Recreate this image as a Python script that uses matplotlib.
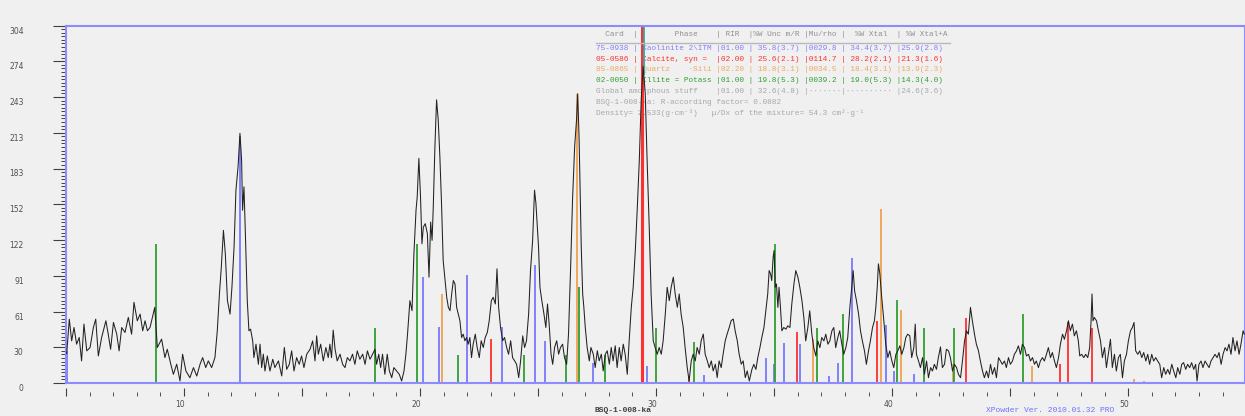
import matplotlib
matplotlib.use('Agg')
import matplotlib.pyplot as plt
from matplotlib.lines import Line2D
from matplotlib.ticker import FixedLocator, MultipleLocator
from matplotlib.transforms import ScaledTranslation

# measured pattern (2-theta, counts)
two_theta = [
    5.03, 5.14, 5.24, 5.34, 5.45, 5.56, 5.66, 5.76, 5.88, 6.02,
    6.16, 6.26, 6.37, 6.51, 6.69, 6.79, 6.89, 7.01, 7.15, 7.25,
    7.36, 7.50, 7.64, 7.78, 7.88, 8.02, 8.14, 8.25, 8.35, 8.45,
    8.56, 8.76, 8.87, 9.05, 9.19, 9.29, 9.44, 9.55, 9.69, 9.83,
    9.94, 10.08, 10.25, 10.40, 10.54, 10.68, 10.79, 10.92, 11.03, 11.17,
    11.31, 11.41, 11.50, 11.58, 11.67, 11.75, 11.84, 11.95, 12.03, 12.12,
    12.20, 12.29, 12.37, 12.44, 12.48, 12.54, 12.60, 12.68, 12.75, 12.82,
    12.91, 12.96, 13.05, 13.15, 13.22, 13.29, 13.36, 13.43, 13.53, 13.64,
    13.76, 13.85, 14.00, 14.14, 14.25, 14.35, 14.46, 14.56, 14.66, 14.77,
    14.88, 14.98, 15.08, 15.20, 15.34, 15.45, 15.55, 15.62, 15.69, 15.79,
    15.90, 16.01, 16.11, 16.18, 16.25, 16.32, 16.40, 16.49, 16.61, 16.72,
    16.82, 16.92, 17.03, 17.14, 17.24, 17.34, 17.45, 17.57, 17.67, 17.77,
    17.88, 17.99, 18.09, 18.16, 18.25, 18.33, 18.41, 18.51, 18.61, 18.70,
    18.80, 18.89, 19.01, 19.12, 19.22, 19.32, 19.40, 19.47, 19.57, 19.66,
    19.74, 19.83, 19.88, 19.95, 20.02, 20.08, 20.14, 20.22, 20.31, 20.38,
    20.45, 20.51, 20.56, 20.63, 20.70, 20.77, 20.84, 20.91, 20.98, 21.06,
    21.13, 21.20, 21.27, 21.34, 21.41, 21.48, 21.55, 21.62, 21.69, 21.76,
    21.83, 21.90, 21.97, 22.04, 22.11, 22.18, 22.25, 22.34, 22.42, 22.51,
    22.59, 22.68, 22.76, 22.85, 22.93, 23.02, 23.10, 23.19, 23.26, 23.33,
    23.41, 23.50, 23.58, 23.67, 23.75, 23.84, 23.92, 24.01, 24.09, 24.18,
    24.26, 24.35, 24.43, 24.51, 24.60, 24.68, 24.77, 24.85, 24.91, 24.97,
    25.02, 25.08, 25.16, 25.25, 25.33, 25.40, 25.47, 25.55, 25.62, 25.70,
    25.79, 25.87, 25.95, 26.04, 26.12, 26.21, 26.29, 26.38, 26.46, 26.55,
    26.63, 26.68, 26.74, 26.78, 26.83, 26.89, 26.94, 27.00, 27.08, 27.17,
    27.24, 27.34, 27.42, 27.51, 27.59, 27.68, 27.76, 27.85, 27.93, 28.02,
    28.10, 28.18, 28.27, 28.35, 28.44, 28.52, 28.61, 28.69, 28.78, 28.86,
    28.95, 29.03, 29.12, 29.20, 29.29, 29.37, 29.45, 29.54, 29.62, 29.71,
    29.79, 29.88, 29.96, 30.05, 30.13, 30.22, 30.30, 30.39, 30.47, 30.56,
    30.64, 30.73, 30.81, 30.90, 30.98, 31.06, 31.15, 31.23, 31.32, 31.40,
    31.49, 31.57, 31.66, 31.74, 31.83, 31.91, 32.00, 32.08, 32.17, 32.25,
    32.34, 32.42, 32.51, 32.59, 32.67, 32.76, 32.84, 32.93, 33.01, 33.10,
    33.18, 33.27, 33.35, 33.44, 33.52, 33.61, 33.69, 33.78, 33.86, 33.95,
    34.06, 34.14, 34.23, 34.31, 34.40, 34.48, 34.57, 34.65, 34.73, 34.79,
    34.85, 34.90, 34.96, 35.00, 35.05, 35.10, 35.16, 35.21, 35.27, 35.33,
    35.41, 35.50, 35.58, 35.67, 35.75, 35.84, 35.92, 36.01, 36.09, 36.18,
    36.26, 36.34, 36.43, 36.51, 36.60, 36.68, 36.77, 36.85, 36.94, 37.02,
    37.11, 37.19, 37.28, 37.36, 37.45, 37.53, 37.61, 37.70, 37.78, 37.87,
    37.95, 38.04, 38.12, 38.21, 38.29, 38.35, 38.41, 38.49, 38.58, 38.66,
    38.74, 38.83, 38.91, 39.00, 39.08, 39.17, 39.25, 39.31, 39.37, 39.42,
    39.48, 39.56, 39.65, 39.73, 39.82, 39.90, 39.99, 40.07, 40.16, 40.24,
    40.33, 40.41, 40.50, 40.58, 40.66, 40.75, 40.83, 40.92, 40.98, 41.03,
    41.12, 41.20, 41.29, 41.37, 41.46, 41.54, 41.63, 41.71, 41.79, 41.88,
    41.96, 42.05, 42.13, 42.22, 42.30, 42.39, 42.47, 42.56, 42.64, 42.73,
    42.81, 42.90, 42.98, 43.07, 43.15, 43.23, 43.32, 43.40, 43.49, 43.57,
    43.66, 43.74, 43.83, 43.91, 44.00, 44.08, 44.17, 44.25, 44.34, 44.42,
    44.51, 44.59, 44.67, 44.76, 44.84, 44.93, 45.01, 45.10, 45.18, 45.27,
    45.35, 45.44, 45.52, 45.61, 45.69, 45.78, 45.86, 45.95, 46.03, 46.11,
    46.20, 46.28, 46.37, 46.45, 46.54, 46.62, 46.71, 46.79, 46.88, 46.96,
    47.05, 47.13, 47.22, 47.30, 47.39, 47.47, 47.55, 47.64, 47.72, 47.81,
    47.89, 47.95, 48.03, 48.12, 48.20, 48.29, 48.37, 48.43, 48.47, 48.51,
    48.57, 48.66, 48.74, 48.83, 48.91, 49.00, 49.08, 49.16, 49.25, 49.33,
    49.42, 49.50, 49.59, 49.67, 49.76, 49.84, 49.93, 50.01, 50.10, 50.18,
    50.25, 50.32, 50.41, 50.49, 50.58, 50.66, 50.75, 50.83, 50.91, 51.00,
    51.08, 51.17, 51.25, 51.34, 51.42, 51.51, 51.59, 51.68, 51.76, 51.85,
    51.93, 52.02, 52.10, 52.19, 52.27, 52.35, 52.44, 52.52, 52.61, 52.69,
    52.78, 52.86, 52.92, 53.00, 53.09, 53.17, 53.26, 53.34, 53.43, 53.51,
    53.60, 53.68, 53.77, 53.85, 53.94, 54.02, 54.11, 54.19, 54.27, 54.36,
    54.44, 54.53, 54.61, 54.70, 54.78, 54.87, 54.92,
]
counts = [
    25.0, 54.3, 35.8, 47.2, 33.0, 38.7, 18.8, 50.1, 27.3, 30.2,
    47.2, 54.3, 23.0, 38.7, 52.9, 41.5, 28.7, 51.5, 41.5, 27.3,
    47.2, 43.0, 55.8, 41.5, 68.6, 52.9, 58.6, 44.4, 52.9, 44.4,
    47.2, 64.3, 30.2, 37.3, 21.6, 28.7, 16.0, 7.4, 16.0, 1.7,
    24.5, 10.2, 4.5, 13.1, 5.9, 16.0, 21.6, 13.1, 18.8, 13.1,
    21.6, 44.4, 75.7, 98.5, 129.8, 109.9, 70.0, 58.6, 81.4, 115.6,
    163.9, 183.9, 212.3, 189.6, 146.9, 166.8, 126.9, 70.0, 44.4, 45.8,
    35.8, 21.6, 33.0, 15.9, 33.0, 13.1, 24.5, 10.2, 23.0, 10.2,
    20.2, 13.1, 18.8, 6.0, 30.2, 11.6, 15.9, 27.3, 10.2, 21.6,
    15.9, 23.0, 13.1, 24.5, 28.7, 35.8, 18.8, 40.1, 24.5, 33.0,
    18.8, 30.2, 21.6, 33.0, 21.6, 45.0, 28.7, 18.8, 24.5, 15.9,
    13.1, 21.6, 18.8, 24.5, 15.9, 27.3, 20.2, 24.5, 15.9, 27.3,
    20.2, 24.5, 28.7, 15.9, 24.5, 13.1, 24.5, 7.4, 24.5, 10.2,
    4.5, 13.1, 10.2, 7.4, 1.7, 10.2, 24.5, 41.5, 70.0, 61.5,
    109.9, 146.9, 158.3, 191.0, 158.3, 118.4, 132.6, 135.5, 127.0, 90.0,
    136.9, 121.3, 149.7, 201.0, 240.8, 223.7, 192.4, 152.6, 104.2, 87.1,
    72.9, 64.3, 61.5, 75.7, 87.1, 84.3, 64.3, 58.6, 52.9, 38.7,
    41.5, 35.9, 38.7, 33.0, 38.7, 21.6, 33.0, 41.5, 30.2, 21.6,
    35.9, 30.2, 38.7, 43.0, 52.9, 70.0, 72.9, 67.2, 97.1, 64.3,
    47.2, 35.9, 38.7, 30.2, 24.5, 35.9, 21.6, 18.8, 15.9, 4.6,
    18.8, 40.1, 30.2, 35.9, 58.6, 95.7, 121.3, 164.0, 152.6, 132.6,
    115.6, 81.4, 70.0, 58.6, 47.2, 67.2, 50.1, 24.5, 15.9, 30.2,
    35.9, 24.5, 30.2, 33.0, 21.6, 15.9, 41.5, 98.5, 155.4, 201.0,
    223.7, 246.0, 206.7, 166.8, 115.6, 75.7, 64.4, 47.3, 30.2, 18.8,
    30.2, 24.5, 13.1, 27.4, 18.8, 24.5, 10.3, 24.5, 27.4, 16.0,
    30.2, 18.8, 31.6, 13.1, 30.2, 18.8, 33.0, 24.5, 7.4, 35.9,
    64.4, 81.4, 112.7, 146.9, 189.6, 240.8, 269.3, 246.5, 189.6, 132.7,
    75.7, 35.9, 30.2, 24.5, 30.2, 24.5, 35.9, 58.6, 81.4, 70.0,
    81.4, 90.0, 75.7, 64.4, 75.7, 58.6, 47.3, 30.2, 13.1, 1.7,
    18.8, 24.5, 18.8, 30.2, 24.5, 35.9, 41.6, 24.5, 18.8, 13.1,
    18.8, 10.3, 16.0, 4.6, 18.8, 13.1, 24.5, 35.9, 41.6, 47.3,
    53.0, 54.4, 44.4, 35.9, 24.5, 16.0, 18.8, 4.6, 10.3, 1.7,
    11.6, 15.9, 11.6, 21.6, 30.1, 38.7, 47.2, 61.4, 75.7, 95.6,
    92.8, 87.1, 107.0, 112.7, 81.4, 84.2, 64.3, 81.4, 64.3, 44.4,
    47.2, 45.8, 48.6, 47.2, 67.1, 84.2, 95.6, 89.9, 81.4, 70.0,
    55.7, 35.8, 47.2, 61.4, 41.5, 30.1, 23.0, 35.8, 30.1, 38.7,
    35.8, 41.5, 33.0, 35.8, 44.4, 47.2, 30.1, 38.7, 44.4, 33.0,
    24.4, 30.1, 38.7, 64.3, 81.4, 95.6, 78.5, 70.0, 58.6, 44.4,
    35.8, 27.3, 15.9, 27.3, 35.8, 47.2, 52.9, 64.3, 81.4, 101.3,
    92.8, 72.8, 52.9, 33.0, 21.6, 27.3, 18.7, 13.1, 24.4, 27.3,
    31.6, 24.4, 30.1, 38.7, 41.5, 40.1, 21.6, 30.1, 50.1, 24.4,
    18.7, 13.1, 21.6, 7.4, 18.7, 4.5, 13.1, 10.2, 15.9, 11.6,
    21.6, 30.7, 13.1, 15.9, 28.7, 27.3, 21.6, 10.2, 15.9, 13.1,
    7.4, 4.5, 18.7, 35.8, 44.4, 41.5, 64.3, 52.9, 41.5, 33.0,
    27.3, 18.7, 10.2, 4.5, 10.2, 4.5, 15.9, 7.4, 13.1, 4.5,
    21.6, 18.7, 15.9, 18.7, 13.1, 21.6, 15.9, 18.7, 24.4, 27.3,
    31.6, 24.4, 33.0, 30.1, 23.0, 24.4, 18.7, 21.6, 15.9, 18.7,
    13.1, 18.7, 21.6, 18.7, 24.4, 30.1, 21.6, 25.9, 18.7, 13.1,
    21.6, 33.0, 41.5, 37.2, 44.4, 52.9, 44.4, 50.1, 40.1, 44.4,
    35.8, 23.0, 24.4, 21.6, 24.4, 21.6, 30.1, 52.9, 75.7, 52.9,
    55.7, 52.9, 44.4, 35.8, 21.6, 30.1, 13.1, 24.4, 37.2, 13.1,
    24.4, 10.2, 21.6, 24.4, 4.5, 18.7, 24.4, 35.8, 44.4, 47.2,
    51.5, 27.3, 24.4, 27.3, 21.6, 25.9, 18.7, 24.4, 15.9, 24.4,
    18.7, 21.6, 18.7, 15.9, 4.5, 13.1, 7.4, 11.6, 7.4, 15.9,
    10.2, 4.5, 13.1, 7.4, 15.9, 17.3, 11.6, 15.9, 13.1, 17.3,
    11.6, 15.9, 1.7, 15.9, 18.7, 13.1, 18.7, 15.9, 13.1, 18.7,
    21.6, 24.4, 21.6, 25.9, 15.9, 24.4, 30.1, 27.3, 33.0, 24.4,
    38.7, 27.3, 35.8, 24.4, 33.0, 44.4, 41.5,
]

# reference patterns (line position, height)
kaol_pos = [5.03, 12.36, 20.14, 20.82, 22.00, 23.48, 24.87, 25.30, 27.34, 29.62,
            32.04, 34.64, 34.98, 35.40, 36.09, 37.32, 37.70, 38.31, 39.76, 40.08, 40.92]
kaol_h = [27, 210, 90, 48, 92, 48, 100, 36, 17, 14.5,
          7, 21, 16, 34, 33.5, 6, 17, 106, 49, 10, 8]
calc_pos = [23.02, 29.40, 31.40, 35.95, 39.38, 43.14, 47.12, 47.46, 48.49]
calc_h = [37, 304, 6, 43.5, 53, 55, 16, 51.5, 47]
quartz_pos = [20.91, 26.66, 36.65, 39.52, 40.37, 42.56, 45.93, 50.24, 50.67]
quartz_h = [76, 246, 37, 148, 62, 16.5, 14.5, 3, 2]
illite_pos = [8.81, 18.09, 19.88, 21.62, 24.42, 26.18, 26.74, 27.83, 29.98, 31.60,
              35.02, 36.80, 37.93, 40.21, 41.37, 42.61, 45.55]
illite_h = [118, 47, 118, 24, 24, 24, 82, 24, 47, 35,
            118, 47, 58.6, 70.6, 47, 47, 58.6]

ytick_labels = ['0', '30', '61', '91', '122', '152', '183', '213', '243', '274', '304']
xtick_labels = ['', '10', '', '20', '', '30', '', '40', '', '50']

table_header = "  Card  |        Phase    | RIR  |%W Unc m/R |Mu/rho |  %W Xtal  | %W Xtal+A"
table_rows = [
    "75-0938 | Kaolinite 2\\ITM |01.00 | 35.8(3.7) |0029.8 | 34.4(3.7) |25.9(2.8)",
    "05-0586 | Calcite, syn =  |02.00 | 25.6(2.1) |0114.7 | 28.2(2.1) |21.3(1.6)",
    "85-0865 | Quartz    \u00b7Sili |02.20 | 18.8(3.1) |0034.5 | 18.4(3.1) |13.9(2.3)",
    "02-0050 | Illite = Potass |01.00 | 19.8(5.3) |0039.2 | 19.0(5.3) |14.3(4.0)",
    "Global amorphous stuff    |01.00 | 32.6(4.8) |\u00b7\u00b7\u00b7\u00b7\u00b7\u00b7\u00b7|\u00b7\u00b7\u00b7\u00b7\u00b7\u00b7\u00b7\u00b7\u00b7\u00b7 |24.6(3.6)",
    "BSQ-1-008-ka: R-according factor= 0.0882",
    "Density= 2.533(g\u00b7cm\u207b\u00b3)   \u00b5/Dx of the mixture= 54.3 cm\u00b2\u00b7g\u207b\u00b9",
]
row_colors = ['#8080ff', '#ff3030', '#f0a860', '#30a030', '#a8a8a8', '#a8a8a8', '#a8a8a8']

BG = '#f0f0f0'
FRAME = '#8c8cff'
W, H = 1245, 416
mono = ['Liberation Mono', 'DejaVu Sans Mono']

fig = plt.figure(figsize=(W / 100, H / 100), dpi=100, facecolor=BG)
ax = fig.add_axes([66 / W, (H - 383) / H, (1244.5 - 66) / W, (383 - 25.5) / H])
ax.set_facecolor(BG)

ax.vlines(kaol_pos, 0, kaol_h, colors='#7878ff', lw=1.3, zorder=2)
ax.vlines(calc_pos, 0, calc_h, colors='#ff3030', lw=1.3, zorder=2)
ax.vlines([calc_pos[1]], 0, [calc_h[1]], colors='#ff3030', lw=2.2, zorder=2)
ax.vlines([29.47], 262, 304, colors='#20b0b0', lw=1.3, zorder=2)
ax.vlines(quartz_pos, 0, quartz_h, colors='#f0a050', lw=1.3, zorder=2)
ax.vlines(illite_pos, 0, illite_h, colors='#30a030', lw=1.3, zorder=2)

ax.plot(two_theta, counts, color='#222222', lw=0.75, zorder=3)

ax.set_xlim(5, 54.93)
ax.set_ylim(0, 304)

# frame
for side in ['left', 'top', 'right']:
    ax.spines[side].set_color(FRAME)
    ax.spines[side].set_linewidth(1.5)
ax.spines['bottom'].set_position(('outward', 9))
ax.spines['bottom'].set_color('none')
ax.axhline(0, color=FRAME, lw=1.5, zorder=4, clip_on=False)

ax.yaxis.set_major_locator(FixedLocator([304 * k / 10 for k in range(11)]))
ax.yaxis.set_minor_locator(MultipleLocator(3.04))
ax.set_yticklabels(ytick_labels)
ax.tick_params(axis='y', which='major', direction='out', length=9.5, width=0.8,
               color='#404040', labelsize=5.5, labelcolor='#505050', pad=21)
ax.tick_params(axis='y', which='minor', direction='out', length=3.6, width=0.7,
               color='#404040')

ax.xaxis.set_major_locator(FixedLocator(list(range(5, 55, 5))))
ax.xaxis.set_minor_locator(MultipleLocator(1))
ax.set_xticklabels(xtick_labels)
ax.tick_params(axis='x', which='major', direction='in', length=5.8, width=0.8,
               color='#404040', labelsize=5.5, labelcolor='#505050', pad=3)
ax.tick_params(axis='x', which='minor', direction='in', length=2.9, width=0.7,
               color='#505050')

for lab in ax.get_yticklabels():
    lab.set_transform(lab.get_transform() + ScaledTranslation(0, -0.045, fig.dpi_scale_trans))
for lab in ax.get_xticklabels():
    lab.set_transform(lab.get_transform() + ScaledTranslation(-0.04, 0, fig.dpi_scale_trans))

# phase table
x0 = 596 / W
ax.text(x0, 1 - 34 / H, table_header, transform=fig.transFigure, family=mono,
        fontsize=5.6, color='#909090', va='center', ha='left', zorder=1, clip_on=False)
fig.add_artist(Line2D([596 / W, 950 / W], [1 - 43 / H, 1 - 43 / H], color='#b8b8b8', lw=1))
for i, (row, col) in enumerate(zip(table_rows, row_colors)):
    ax.text(x0, 1 - (48.5 + 10.7 * i) / H, row, transform=fig.transFigure, family=mono,
            fontsize=5.6, color=col, va='center', ha='left', zorder=1, clip_on=False)

fig.text(623 / W, 1 - 410 / H, 'BSQ-1-008-ka', family=mono, fontsize=5.8,
         color='#404040', ha='center', va='center', weight='bold')
fig.text(986 / W, 1 - 410 / H, 'XPowder Ver. 2010.01.32 PRO', family=mono, fontsize=5.8,
         color='#7070ff', ha='left', va='center')

fig.savefig('out.png', dpi=100, facecolor=BG)
